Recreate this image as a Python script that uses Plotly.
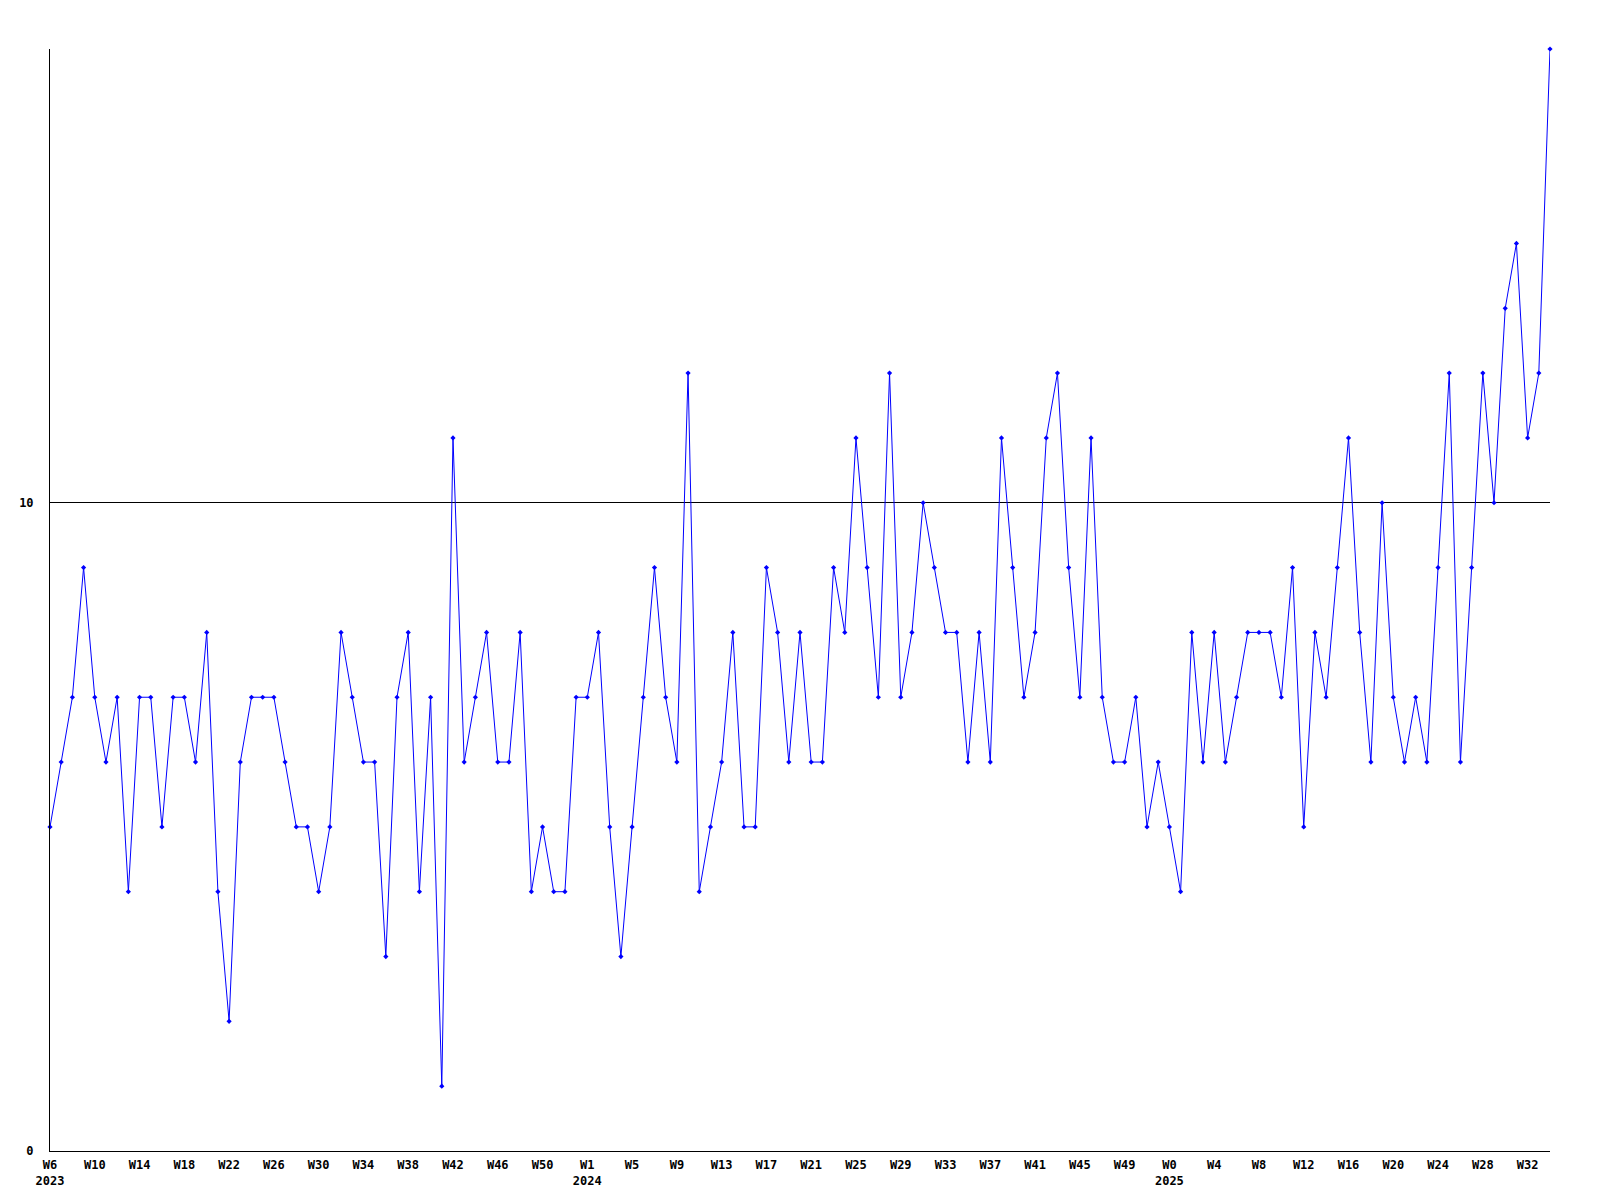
import plotly.graph_objects as go

# Weekly values, 2023 W6 .. 2025 W34 (135 points)
values = [
    5, 6, 7, 9, 7, 6, 7, 4, 7, 7, 5, 7, 7, 6, 8, 4, 2, 6, 7, 7, 7, 6, 5,
    5, 4, 5, 8, 7, 6, 6, 3, 7, 8, 4, 7, 1, 11, 6, 7, 8, 6, 6, 8, 4, 5,
    4, 4, 7, 7, 8, 5, 3, 5, 7, 9, 7, 6, 12, 4, 5, 6, 8, 5, 5, 9, 8, 6, 8,
    6, 6, 9, 8, 11, 9, 7, 12, 7, 8, 10, 9, 8, 8, 6, 8, 6, 11, 9, 7, 8, 11,
    12, 9, 7, 11, 7, 6, 6, 7, 5, 6, 5, 4, 8, 6, 8, 6, 7, 8, 8, 8, 7, 9,
    5, 8, 7, 9, 11, 8, 6, 10, 7, 6, 7, 6, 9, 12, 6, 9, 12, 10, 13, 14, 11, 12, 17,
]

# x tick labels (every 4th week)
tick_labels = [
    "W6<br>2023", "W10", "W14", "W18", "W22", "W26", "W30", "W34", "W38", "W42",
    "W46", "W50", "W1<br>2024", "W5", "W9", "W13", "W17", "W21", "W25", "W29",
    "W33", "W37", "W41", "W45", "W49", "W0<br>2025", "W4", "W8", "W12", "W16",
    "W20", "W24", "W28", "W32",
]
tick_step = 4

y_ticks = [0, 10]
y_max = 17

x = list(range(len(values)))
tick_positions = [i * tick_step for i in range(len(tick_labels))]

fig = go.Figure()
fig.add_trace(go.Scatter(
    x=x, y=values, mode="lines+markers",
    line=dict(color="#0000ff", width=1),
    marker=dict(color="#0000ff", size=4, symbol="diamond"),
    showlegend=False, cliponaxis=False,
))

font = dict(family="DejaVu Sans Mono", size=12, color="black", weight="bold")

fig.update_layout(
    width=1600, height=1200,
    margin=dict(l=42, r=58, t=41, b=57, pad=0),
    plot_bgcolor="white", paper_bgcolor="white",
    xaxis=dict(
        range=[0, len(values) - 1],
        tickmode="array", tickvals=tick_positions, ticktext=tick_labels,
        tickfont=font, showgrid=False, zeroline=False,
        showline=True, linecolor="black", linewidth=1,
        ticks="", ticklabelstandoff=3, automargin=False,
    ),
    yaxis=dict(
        range=[0, y_max],
        tickmode="array", tickvals=y_ticks, ticktext=[str(v) for v in y_ticks],
        tickfont=font, showgrid=True, gridcolor="black", gridwidth=1,
        zeroline=False, showline=True, linecolor="black", linewidth=1,
        ticks="", ticklabelstandoff=13, automargin=False,
    ),
)

fig.write_html("out.html")
